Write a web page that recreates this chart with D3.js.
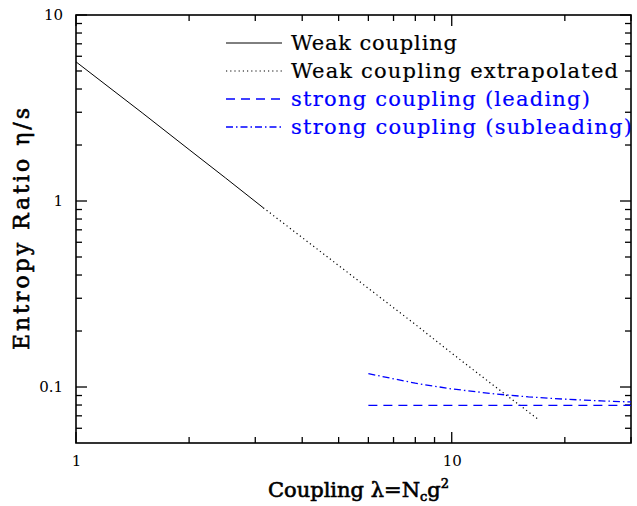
<!DOCTYPE html>
<html>
<head>
<meta charset="utf-8">
<script src="https://cdn.jsdelivr.net/npm/d3@7"></script>
<style>
  html, body { margin: 0; padding: 0; background: #fff; }
  svg { display: block; }
</style>
</head>
<body>
<svg id="chart" width="637" height="506"></svg>
<script>
// ---- data ----
const weakX = [1, 1.5, 2, 2.5, 3.15];
const weakY = [5.6, 2.98, 1.89, 1.33, 0.92];
const extrapX = [3.15, 5, 8, 10, 13, 17];
const extrapY = [0.92, 0.45, 0.217, 0.152, 0.101, 0.067];
const leadX = [6, 10, 20, 30];
const leadY = [0.0796, 0.0796, 0.0796, 0.0796];
const subX = [6, 8, 10, 13, 16, 20, 25, 30];
const subY = [0.118, 0.1048, 0.0977, 0.0918, 0.0885, 0.086, 0.0842, 0.0831];
const xMajor = [1, 10];
const xMinor = [2, 3, 4, 5, 6, 7, 8, 9, 20, 30];
const yMajor = [0.1, 1, 10];
const yMinor = [0.06, 0.07, 0.08, 0.09, 0.2, 0.3, 0.4, 0.5, 0.6, 0.7, 0.8, 0.9, 2, 3, 4, 5, 6, 7, 8, 9];
const legendLabels = ["Weak coupling", "Weak coupling extrapolated", "strong coupling (leading)", "strong coupling (subleading)"];

// ---- layout ----
const L = 76, R = 631, T = 15, B = 443;
const svg = d3.select("#chart");
const x = d3.scaleLog().domain([1, 30]).range([L, R]);
const y = d3.scaleLog().domain([0.05, 10]).range([B, T]);
const FONT = "'DejaVu Serif', serif";
const BLUE = "#0000ff";

svg.append("defs").append("clipPath").attr("id", "clip")
  .append("rect").attr("x", L).attr("y", T).attr("width", R - L).attr("height", B - T);

svg.append("rect").attr("x", L).attr("y", T).attr("width", R - L).attr("height", B - T)
  .attr("fill", "none").attr("stroke", "#000").attr("stroke-width", 1.6);

// ---- ticks (inside on all four sides) ----
const MAJ = 11, MIN = 6;
const tickPaths = [];
xMajor.forEach(v => tickPaths.push({ x1: x(v), y1: B, x2: x(v), y2: B - MAJ }, { x1: x(v), y1: T, x2: x(v), y2: T + MAJ }));
xMinor.forEach(v => tickPaths.push({ x1: x(v), y1: B, x2: x(v), y2: B - MIN }, { x1: x(v), y1: T, x2: x(v), y2: T + MIN }));
yMajor.forEach(v => tickPaths.push({ x1: L, y1: y(v), x2: L + MAJ, y2: y(v) }, { x1: R, y1: y(v), x2: R - MAJ, y2: y(v) }));
yMinor.forEach(v => tickPaths.push({ x1: L, y1: y(v), x2: L + MIN, y2: y(v) }, { x1: R, y1: y(v), x2: R - MIN, y2: y(v) }));
svg.append("g").selectAll("line").data(tickPaths).join("line")
  .attr("x1", d => d.x1).attr("y1", d => d.y1).attr("x2", d => d.x2).attr("y2", d => d.y2)
  .style("stroke", "#000").style("stroke-width", "1.3px");

// tick labels via d3 axes (tick marks hidden)
const fmt = d => d >= 1 ? d3.format("d")(d) : d3.format(".1f")(d);
const gx = svg.append("g").attr("transform", `translate(0,${B})`)
  .call(d3.axisBottom(x).tickValues(xMajor).tickFormat(fmt).tickSize(0).tickPadding(12));
const gy = svg.append("g").attr("transform", `translate(${L},0)`)
  .call(d3.axisLeft(y).tickValues(yMajor).tickFormat(fmt).tickSize(0).tickPadding(13));
[gx, gy].forEach(g => {
  g.select(".domain").remove();
  g.selectAll(".tick text").attr("font-family", FONT).attr("font-size", 15).attr("fill", "#000");
});

// ---- lines ----
const line = d3.line().x(d => x(d[0])).y(d => y(d[1]));
const plot = svg.append("g").attr("clip-path", "url(#clip)");
const series = [
  { xs: weakX, ys: weakY, color: "#000", dash: null, w: 1 },
  { xs: extrapX, ys: extrapY, color: "#000", dash: "1.2,3", w: 1.2 },
  { xs: leadX, ys: leadY, color: BLUE, dash: "9,6", w: 1.3 },
  { xs: subX, ys: subY, color: BLUE, dash: "7,3,1.5,3", w: 1.3 }
];
series.forEach(s => {
  plot.append("path").datum(s.xs.map((v, i) => [v, s.ys[i]]))
    .attr("d", line).attr("fill", "none").attr("stroke", s.color)
    .attr("stroke-width", s.w).attr("stroke-dasharray", s.dash);
});

// ---- legend ----
const legY = [43, 71, 99, 127];
const legW = [166, 327, 299, 341];
legendLabels.forEach((lab, i) => {
  const s = series[i];
  svg.append("line").attr("x1", 226).attr("x2", 282).attr("y1", legY[i]).attr("y2", legY[i])
    .attr("stroke", s.color).attr("stroke-width", s.w).attr("stroke-dasharray", s.dash);
  svg.append("text").attr("x", 291).attr("y", legY[i] + 7)
    .attr("font-family", FONT).attr("font-size", 21)
    .attr("fill", i < 2 ? "#000" : BLUE)
    .attr("stroke", i < 2 ? "#000" : BLUE).attr("stroke-width", 0.2)
    .attr("textLength", legW[i]).attr("lengthAdjust", "spacing")
    .text(lab);
});

// ---- axis titles ----
const xt = svg.append("text").attr("x", 358.5).attr("y", 497).attr("text-anchor", "middle")
  .attr("font-family", FONT).attr("font-size", 21).attr("fill", "#000")
  .attr("stroke", "#000").attr("stroke-width", 0.6);
xt.append("tspan").text("Coupling  λ=N");
xt.append("tspan").attr("font-size", 13).attr("dy", 4).text("c");
xt.append("tspan").attr("dy", -4).text("g");
xt.append("tspan").attr("font-size", 13).attr("dy", -9).text("2");

svg.append("text").attr("transform", "translate(29,229) rotate(-90)").attr("text-anchor", "middle")
  .attr("font-family", FONT).attr("font-size", 22).attr("fill", "#000")
  .attr("stroke", "#000").attr("stroke-width", 0.6)
  .attr("textLength", 242).attr("lengthAdjust", "spacing")
  .text("Entropy Ratio η/s");
</script>
</body>
</html>
